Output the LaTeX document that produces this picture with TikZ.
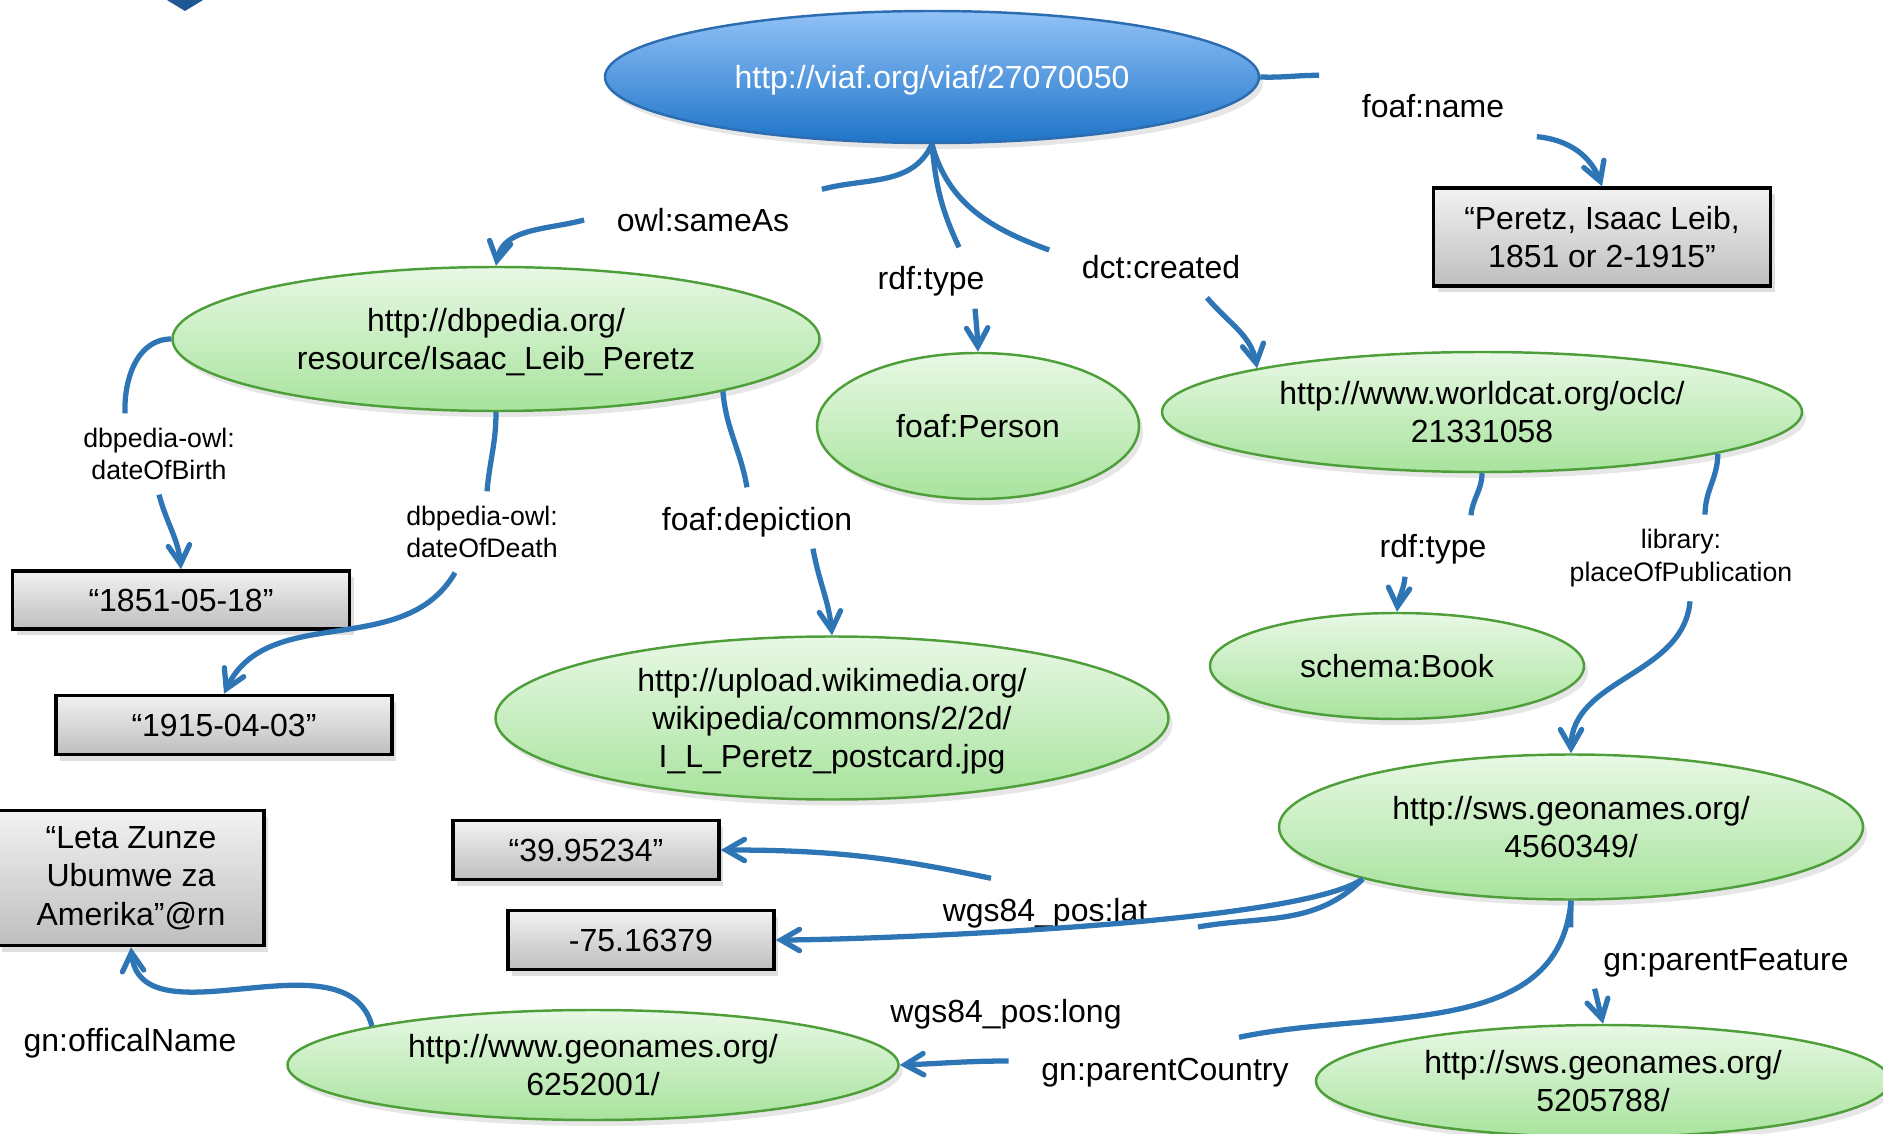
\documentclass[tikz,border=0pt]{standalone}
\usepackage{fontspec}
\setmainfont{Liberation Sans}
\usepackage{tikz}
\usetikzlibrary{arrows}
\usetikzlibrary{shapes.geometric, positioning, calc, shadows}
\usepackage{xcolor}

\definecolor{linkblue}{RGB}{46,117,182}
\definecolor{fragblue}{RGB}{30,88,148}
\definecolor{resgreen}{RGB}{78,158,58}
\definecolor{resgreentop}{RGB}{232,248,229}
\definecolor{resgreenbot}{RGB}{168,227,157}
\definecolor{viaftop}{RGB}{146,194,247}
\definecolor{viafbot}{RGB}{30,116,200}
\definecolor{viafline}{RGB}{44,108,176}
\definecolor{littop}{RGB}{242,242,242}
\definecolor{litbot}{RGB}{190,190,190}

\newcommand{\propfont}{\fontsize{9.1}{10.9}\selectfont}
\newcommand{\smallpropfont}{\fontsize{7.6}{9.2}\selectfont}

\begin{document}
\begin{tikzpicture}[x=0.1mm, y=0.1mm,
    resource/.style={ellipse, draw=resgreen, line width=0.7pt, top color=resgreentop, bottom color=resgreenbot,
      inner sep=0pt, text depth=0pt, align=center, font=\propfont, drop shadow={opacity=0.2, shadow xshift=0.4mm, shadow yshift=-0.6mm}},
    subject/.style={resource, draw=viafline, top color=viaftop, bottom color=viafbot, text=white},
    literal/.style={rectangle, draw=black, line width=1pt, top color=littop, bottom color=litbot,
      inner sep=0pt, align=center, font=\propfont, drop shadow={opacity=0.25, shadow xshift=0.4mm, shadow yshift=-0.6mm}},
    property/.style={font=\propfont, inner xsep=3.2mm, inner ysep=1.5mm, text height=2.7mm, text depth=0.3mm},
    smallproperty/.style={font=\smallpropfont, inner xsep=3.2mm, inner ysep=1.4mm, align=center},
    link/.style={draw=linkblue, line width=1.5pt, -angle 60},
    linkpart/.style={draw=linkblue, line width=1.5pt}]

  \useasboundingbox (0,0) rectangle (1883,-1134);

  % arrow cut off at the top edge
  \fill[fragblue] (162,3) -- (208,3) -- (185,-11) -- cycle;

  % resources
  \node[subject, minimum width=65.4mm, minimum height=13.2mm] (viaf) at (932,-77) {http://viaf.org/viaf/27070050};
  \node[resource, minimum width=64.7mm, minimum height=14.4mm] (dbp) at (496,-339) {http://dbpedia.org/\\resource/Isaac\_Leib\_Peretz};
  \node[resource, minimum width=32.2mm, minimum height=14.6mm] (person) at (978,-426) {foaf:Person};
  \node[resource, minimum width=64mm, minimum height=12mm] (oclc) at (1482,-412) {http://www.worldcat.org/oclc/\\21331058};
  \node[resource, minimum width=37.4mm, minimum height=10.6mm] (book) at (1397,-666) {schema:Book};
  \node[resource, minimum width=67.3mm, minimum height=16.3mm] (wiki) at (832,-718) {http://upload.wikimedia.org/\\wikipedia/commons/2/2d/\\I\_L\_Peretz\_postcard.jpg};
  \node[resource, minimum width=58.4mm, minimum height=14.5mm] (geoCity) at (1571,-827) {http://sws.geonames.org/\\4560349/};
  \node[resource, minimum width=61.1mm, minimum height=11mm] (geoCountry) at (593,-1065) {http://www.geonames.org/\\6252001/};
  \node[resource, minimum width=57.4mm, minimum height=11.2mm] (geoState) at (1603,-1081) {http://sws.geonames.org/\\5205788/};

  % literals
  \node[literal, minimum width=33.7mm, minimum height=9.8mm] (nameLit) at (1602,-237) {“Peretz, Isaac Leib,\\1851 or 2-1915”};
  \node[literal, minimum width=33.7mm, minimum height=5.8mm] (birthLit) at (181,-600) {“1851-05-18”};
  \node[literal, minimum width=33.6mm, minimum height=5.9mm] (deathLit) at (224,-725) {“1915-04-03”};
  \node[literal, minimum width=26.6mm, minimum height=13.5mm] (countryNameLit) at (131,-878) {“Leta Zunze\\Ubumwe za\\Amerika”@rn};
  \node[literal, minimum width=26.6mm, minimum height=5.9mm] (latLit) at (586,-850) {“39.95234”};
  \node[literal, minimum width=26.6mm, minimum height=5.9mm] (longLit) at (641,-940) {-75.16379};

  % properties
  \node[property] (sameAsLbl) at (703,-220) {owl:sameAs};
  \node[property] (typeLbl) at (931,-278) {rdf:type};
  \node[property] (createdLbl) at (1161,-267) {dct:created};
  \node[property] (nameLbl) at (1433,-106) {foaf:name};
  \node[smallproperty] (birthLbl) at (159,-454) {dbpedia-owl:\\dateOfBirth};
  \node[smallproperty] (deathLbl) at (482,-532) {dbpedia-owl:\\dateOfDeath};
  \node[property] (depictLbl) at (757,-518) {foaf:depiction};
  \node[property] (bookTypeLbl) at (1433,-546) {rdf:type};
  \node[smallproperty] (placeLbl) at (1681,-558) {library:\\placeOfPublication};
  \node[property, inner xsep=5mm] (latLbl) at (1045,-909) {wgs84\_pos:lat};
  \node[property] (longLbl) at (1006,-1010) {wgs84\_pos:long};
  \node[property] (countryLbl) at (1165,-1068) {gn:parentCountry};
  \node[property] (featureLbl) at (1726,-958) {gn:parentFeature};
  \node[property] (officialLbl) at (130,-1039) {gn:officalName};

  % links
  \draw[linkpart] (viaf.south) to[out=245,in=15] (sameAsLbl.north east);
  \draw[link] (sameAsLbl.west) to[out=195,in=80] (dbp.north);
  \draw[linkpart] (viaf.south) to[out=-85,in=115] ([xshift=2.8mm]typeLbl.north);
  \draw[link] ([xshift=4.4mm]typeLbl.south) to[out=-85,in=92] (person.north);
  \draw[linkpart] (viaf.south) to[out=-75,in=160] ([yshift=1.7mm]createdLbl.west);
  \draw[link] ([xshift=4.6mm]createdLbl.south) to[out=-50,in=100] (oclc.169);
  \draw[linkpart] (viaf.east) to[out=-2,in=180] ([xshift=-1mm]nameLbl.north west);
  \draw[link] (nameLbl.south east) to[out=-5,in=110] (nameLit.north);

  \draw[linkpart] (dbp.west) to[out=180,in=92] ([xshift=-3.4mm]birthLbl.north);
  \draw[link] (birthLbl.south) to[out=-75,in=95] (birthLit.north);
  \draw[linkpart] (dbp.south) to[out=-90,in=85] ([xshift=0.5mm]deathLbl.north);
  \draw[link] ([xshift=-2.7mm]deathLbl.south) to[out=240,in=65] (deathLit.north);
  \draw[linkpart] (dbp.-13) to[out=-85,in=100] ([xshift=-1mm]depictLbl.north);
  \draw[link] ([xshift=5.6mm]depictLbl.south) to[out=-80,in=95] (wiki.north);

  \draw[linkpart] (oclc.south) to[out=-90,in=85] ([xshift=3.8mm]bookTypeLbl.north);
  \draw[link] ([xshift=-2.8mm]bookTypeLbl.south) to[out=-95,in=85] (book.north);
  \draw[linkpart] (oclc.-10) to[out=-90,in=90] ([xshift=2.4mm]placeLbl.north);
  \draw[link] ([xshift=0.9mm]placeLbl.south) to[out=-95,in=90] (geoCity.north);

  \draw[link] (geoCity.194) to[out=215,in=0,looseness=0.35] (longLit.east);
  \draw[linkpart] (geoCity.194) to[out=225,in=10] ([yshift=-1.8mm]latLbl.east);
  \draw[link] ([xshift=-5.4mm]latLbl.north) to[out=168,in=0] (latLit.east);
  \draw[linkpart] (geoCity.south) to[out=-95,in=12] ([xshift=7.4mm]countryLbl.north);
  \draw[link] ([yshift=0.7mm]countryLbl.west) to[out=180,in=2] (geoCountry.east);
  \draw[linkpart] (geoCity.south) -- (featureLbl.north west);
  \draw[link] ([xshift=2.4mm]featureLbl.south west) -- (geoState.north);
  \draw[link] (geoCountry.170) to[out=105,in=-85] (countryNameLit.south);
\end{tikzpicture}
\end{document}
